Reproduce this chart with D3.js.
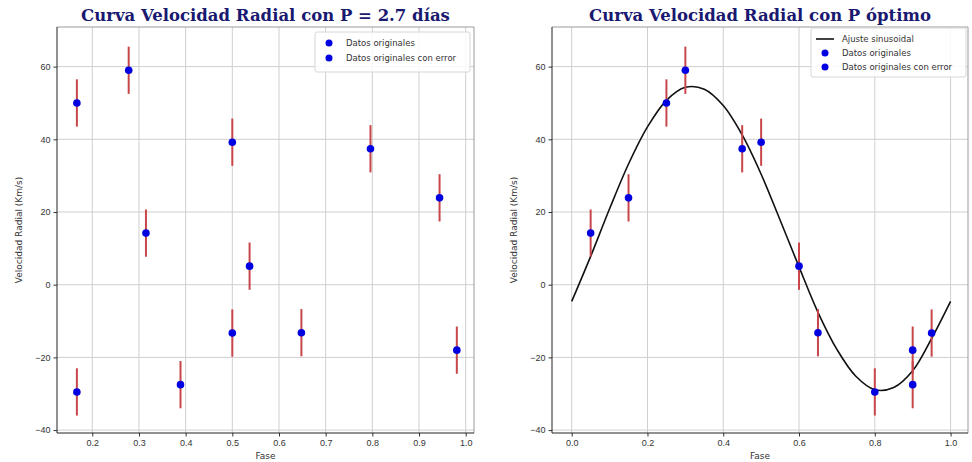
<!DOCTYPE html>
<html lang="es">
<head>
<meta charset="UTF-8">
<title>Curva Velocidad Radial</title>
<script src="https://d3js.org/d3.v7.min.js"></script>
<style>
  body { margin: 0; background: #fff; }
  svg { display: block; font-family: "DejaVu Sans", sans-serif; }
  .tick text { fill: #333; font-size: 9px; }
  .grid line { stroke: #cfcfcf; stroke-width: 1; }
</style>
</head>
<body>
<svg width="972" height="462"></svg>
<script>
// datos observados (Km/s) y su error
const velocidades = [50, 59, 14.2, -27.5, 39.2, -13.3, 5.1, -13.2, 37.4, 23.9, -18, -29.5];
const errores = [6.5, 6.5, 6.5, 6.5, 6.5, 6.5, 6.5, 6.5, 6.5, 6.5, 6.5, 6.5];
// fase con P = 2.7 dias
const faseP27 = [0.167, 0.278, 0.315, 0.389, 0.5, 0.5, 0.537, 0.648, 0.796, 0.944, 0.981, 0.167];
// fase con P optimo
const faseOptima = [0.25, 0.3, 0.05, 0.9, 0.5, 0.95, 0.6, 0.65, 0.45, 0.15, 0.9, 0.8];
// ajuste sinusoidal
const ajusteFase = [0, 0.05, 0.1, 0.15, 0.2, 0.25, 0.3, 0.35, 0.4, 0.45, 0.5, 0.55, 0.6, 0.65, 0.7, 0.75, 0.8, 0.85, 0.9, 0.95, 1.0];
const ajusteVel = [-4.6, 7.8, 20.9, 33.2, 43.4, 50.7, 54.3, 53.8, 49.3, 41.2, 30.4, 17.8, 4.9, -7.6, -17.8, -25.2, -28.9, -28.3, -23.7, -14.8, -4.6];

const ticksY = [-40, -20, 0, 20, 40, 60];
const ticksXIzq = [0.2, 0.3, 0.4, 0.5, 0.6, 0.7, 0.8, 0.9, 1.0];
const ticksXDer = [0.0, 0.2, 0.4, 0.6, 0.8, 1.0];

const svg = d3.select("svg");
const yTop = 27, yBottom = 433;

const paneles = [
  { titulo: "Curva Velocidad Radial con P = 2.7 días", fase: faseP27, x0: 57, x1: 474,
    dom: [0.1244, 1.0178], ticks: ticksXIzq, fmt: d3.format(".1f"), ajuste: false,
    leyenda: { x: 315, y: 32, w: 155, h: 40 } },
  { titulo: "Curva Velocidad Radial con P óptimo", fase: faseOptima, x0: 552, x1: 968,
    dom: [-0.052, 1.046], ticks: ticksXDer, fmt: d3.format(".1f"), ajuste: true,
    leyenda: { x: 811, y: 28, w: 155, h: 49 } }
];

paneles.forEach(p => {
  const x = d3.scaleLinear().domain(p.dom).range([p.x0, p.x1]);
  const y = d3.scaleLinear().domain([-40.8, 70.9]).range([yBottom, yTop]);
  const g = svg.append("g");

  // rejilla
  g.append("g").attr("class", "grid")
    .selectAll("line").data(p.ticks).join("line")
    .attr("x1", d => x(d)).attr("x2", d => x(d)).attr("y1", yTop).attr("y2", yBottom);
  g.append("g").attr("class", "grid")
    .selectAll("line").data(ticksY).join("line")
    .attr("x1", p.x0).attr("x2", p.x1).attr("y1", d => y(d)).attr("y2", d => y(d));

  // ejes
  g.append("g").attr("transform", `translate(0,${yBottom})`)
    .call(d3.axisBottom(x).tickValues(p.ticks).tickFormat(p.fmt).tickSizeOuter(0).tickSize(3.5).tickPadding(3))
    .call(a => a.select(".domain").remove())
    .call(a => a.selectAll(".tick line").attr("stroke", "#333"));
  g.append("g").attr("transform", `translate(${p.x0},0)`)
    .call(d3.axisLeft(y).tickValues(ticksY).tickFormat(d3.format("d")).tickSizeOuter(0).tickSize(3.5).tickPadding(3))
    .call(a => a.select(".domain").remove())
    .call(a => a.selectAll(".tick line").attr("stroke", "#333"));

  // marco
  g.append("line").attr("x1", p.x0).attr("x2", p.x1).attr("y1", yTop).attr("y2", yTop).attr("stroke", "#9a9a9a");
  g.append("line").attr("x1", p.x1).attr("x2", p.x1).attr("y1", yTop).attr("y2", yBottom).attr("stroke", "#9a9a9a");
  g.append("line").attr("x1", p.x0).attr("x2", p.x0).attr("y1", yTop).attr("y2", yBottom).attr("stroke", "#222");
  g.append("line").attr("x1", p.x0).attr("x2", p.x1).attr("y1", yBottom).attr("y2", yBottom).attr("stroke", "#222");

  // ajuste
  if (p.ajuste) {
    g.append("path")
      .datum(ajusteFase.map((f, i) => [f, ajusteVel[i]]))
      .attr("fill", "none").attr("stroke", "#111").attr("stroke-width", 1.6)
      .attr("d", d3.line().x(d => x(d[0])).y(d => y(d[1])).curve(d3.curveCatmullRom));
  }

  const datos = p.fase.map((f, i) => ({ f, v: velocidades[i], e: errores[i] }));
  g.append("g").selectAll("line").data(datos).join("line")
    .attr("x1", d => x(d.f)).attr("x2", d => x(d.f))
    .attr("y1", d => y(d.v - d.e)).attr("y2", d => y(d.v + d.e))
    .attr("stroke", "#c8464a").attr("stroke-width", 2);
  g.append("g").selectAll("circle").data(datos).join("circle")
    .attr("cx", d => x(d.f)).attr("cy", d => y(d.v)).attr("r", 3.8)
    .attr("fill", "#0000e0");

  // titulo y etiquetas
  svg.append("text").attr("x", (p.x0 + p.x1) / 2).attr("y", 21)
    .attr("text-anchor", "middle")
    .style("font-family", "'DejaVu Serif', serif").style("font-weight", "bold")
    .style("font-size", "16.5px").attr("fill", "#191970").text(p.titulo);
  svg.append("text").attr("x", (p.x0 + p.x1) / 2).attr("y", 459)
    .attr("text-anchor", "middle").style("font-size", "9px").attr("fill", "#333").text("Fase");
  svg.append("text")
    .attr("transform", `translate(${p.x0 - 35},${(yTop + yBottom) / 2}) rotate(-90)`)
    .attr("text-anchor", "middle").style("font-size", "9px").attr("fill", "#333")
    .text("Velocidad Radial (Km/s)");

  // leyenda
  const L = p.leyenda;
  const lg = svg.append("g");
  lg.append("rect").attr("x", L.x).attr("y", L.y).attr("width", L.w).attr("height", L.h)
    .attr("rx", 2).attr("fill", "#fff").attr("fill-opacity", 0.85).attr("stroke", "#d6d6d6");
  const items = p.ajuste
    ? [["linea", "Ajuste sinusoidal"], ["punto", "Datos originales"], ["punto", "Datos originales con error"]]
    : [["punto", "Datos originales"], ["punto", "Datos originales con error"]];
  const paso = p.ajuste ? 14 : 15;
  items.forEach(([tipo, txt], i) => {
    const cy = L.y + 11 + i * paso;
    if (tipo === "linea") {
      lg.append("line").attr("x1", L.x + 5).attr("x2", L.x + 23).attr("y1", cy).attr("y2", cy)
        .attr("stroke", "#111").attr("stroke-width", 1.6);
    } else {
      lg.append("circle").attr("cx", L.x + 14).attr("cy", cy).attr("r", 3.5).attr("fill", "#0000e0");
    }
    lg.append("text").attr("x", L.x + 31).attr("y", cy + 3).style("font-size", "8.5px")
      .attr("fill", "#333").text(txt);
  });
});
</script>
</body>
</html>
